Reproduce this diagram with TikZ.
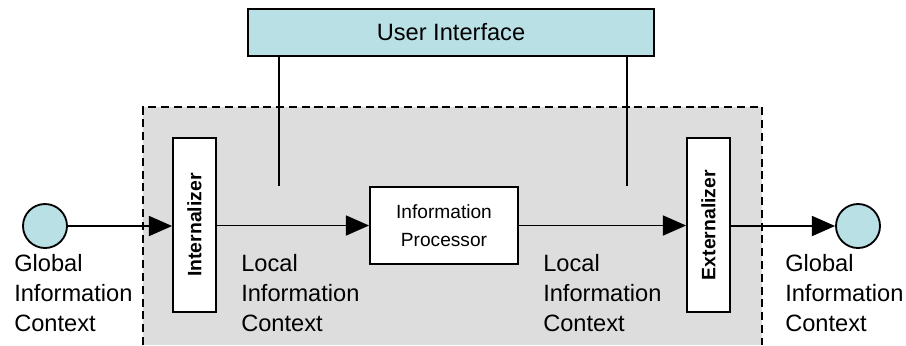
\documentclass[tikz,border=0pt]{standalone}
\usepackage{fontspec}
\setmainfont{Liberation Sans}
\usetikzlibrary{arrows.meta}

\definecolor{uicyan}{RGB}{185,224,228}
\definecolor{areagray}{RGB}{221,221,221}

\begin{document}
\begin{tikzpicture}[x=0.025cm, y=-0.025cm,
        % Shared looks
        box/.style={draw, line width=1.3pt, fill=white, inner sep=0pt},
        ctx/.style={circle, draw, line width=1.3pt, fill=uicyan,
            minimum size=1.1cm, inner sep=0pt},
        lbl/.style={anchor=north west, inner sep=0pt, align=left,
            font=\fontsize{16.8pt}{21.3pt}\selectfont},
        flow/.style={line width=1.3pt, -{Triangle[length=0.58cm, width=0.5cm]}},
        link/.style={line width=1.3pt},
    ]
    \useasboundingbox (0,0) rectangle (906,345);

    % Shaded local area, open at the bottom
    \fill[areagray] (143,107) rectangle (762,345);
    \draw[line width=2pt, dash pattern=on 5.7pt off 3.4pt]
        (143,345) -- (143,107) -- (762,107) -- (762,345);

    % User interface on top
    \node[box, fill=uicyan, minimum width=10.15cm, minimum height=1.175cm,
        font=\fontsize{16.8pt}{21.3pt}\selectfont] (ui) at (451,32.5) {User Interface};
    \coordinate (tapL) at (279,186);
    \coordinate (tapR) at (627,186);

    % Global contexts
    \node[ctx] (gin) at (45,226) {};
    \node[ctx] (gout) at (858,226) {};

    % Converters and processor
    \node[box, minimum width=1.075cm, minimum height=4.35cm,
        font=\bfseries\fontsize{13.8pt}{16pt}\selectfont] (intern) at (194.5,225)
        {\rotatebox{90}{Internalizer}};
    \node[box, minimum width=1.075cm, minimum height=4.35cm,
        font=\bfseries\fontsize{13.8pt}{16pt}\selectfont] (extern) at (708.5,225)
        {\rotatebox{90}{Externalizer}};
    \node[box, minimum width=3.7cm, minimum height=1.925cm, align=center,
        font=\fontsize{13.6pt}{19.9pt}\selectfont] (proc) at (444,225.5)
        {Information\\Processor};

    % Labels
    \node[lbl] (gctxL) at (14,254) {Global\\Information\\Context};
    \node[lbl] (lctxL) at (241,254) {Local\\Information\\Context};
    \node[lbl] (lctxR) at (543,254) {Local\\Information\\Context};
    \node[lbl] (gctxR) at (785,254) {Global\\Information\\Context};

    % Connectors
    \draw[flow] (gin) -- (gin -| intern.west);
    \draw[flow] (intern.east |- proc) -- (proc.west);
    \draw[flow] (proc.east) -- (proc -| extern.west);
    \draw[flow] (extern.east |- gout) -- (gout);
    \draw[link] (ui.south -| tapL) -- (tapL);
    \draw[link] (ui.south -| tapR) -- (tapR);
\end{tikzpicture}
\end{document}
